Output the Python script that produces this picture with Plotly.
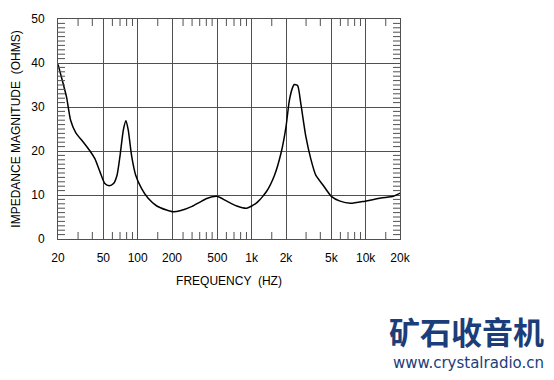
import plotly.graph_objects as go

freq_hz = [20, 22.3, 23.8, 25.8, 28.6, 33.4, 38.2, 42.2, 46.8, 51.5, 56.3, 61.4, 65.9,
           70, 74.9, 78.9, 82.6, 88.5, 96.1, 108, 123, 147, 179, 205, 235, 300, 352,
           404, 495, 605, 740, 904, 1104, 1349, 1586, 1811, 2000, 2137, 2283, 2361,
           2527, 2700, 2985, 3300, 3648, 4186, 4997, 5960, 7362, 9880, 13600, 17500, 20000]
impedance_ohms = [39.7, 35.1, 32.2, 27.0, 24.2, 22.0, 20.0, 18.2, 15.2, 12.6, 12.1, 12.6, 14.5,
                  18.9, 24.8, 26.9, 24.8, 18.9, 14.5, 11.5, 9.3, 7.5, 6.6, 6.2, 6.4, 7.4, 8.4,
                  9.2, 9.7, 8.6, 7.5, 7.0, 8.2, 10.8, 14.5, 19.6, 25.5, 31.4, 34.4, 35.1,
                  34.9, 30.7, 23.3, 18.2, 14.5, 12.4, 9.7, 8.6, 8.1, 8.6, 9.3, 9.7, 10.4]

x_tick_vals = [20, 50, 100, 200, 500, 1000, 2000, 5000, 10000, 20000]
x_tick_text = ["20", "50", "100", "200", "500", "1k", "2k", "5k", "10k", "20k"]
x_minor_vals = [30, 40, 60, 70, 80, 90, 150, 250, 300, 350, 400, 450, 600, 700, 800, 900,
                1500, 3000, 4000, 6000, 7000, 8000, 9000, 15000]
y_tick_vals = [0, 10, 20, 30, 40, 50]
y_minor_vals = [v for v in range(1, 50) if v % 10 != 0]

FONT = "Liberation Sans, Arial, sans-serif"
GRID = "#505050"
X_MIN, X_MAX = 20, 20000
Y_MIN, Y_MAX = 0, 50

fig = go.Figure()
fig.add_trace(go.Scatter(x=freq_hz, y=impedance_ohms, mode="lines",
                         line=dict(color="black", width=1.5, shape="spline", smoothing=0.6),
                         showlegend=False, hoverinfo="skip"))

# inward minor tick marks along the frame (half of each marker is clipped by the axes)
fig.add_trace(go.Scatter(x=x_minor_vals * 2,
                         y=[Y_MIN] * len(x_minor_vals) + [Y_MAX] * len(x_minor_vals),
                         mode="markers", cliponaxis=True,
                         marker=dict(symbol="line-ns-open", size=10, color=GRID,
                                     line=dict(color=GRID, width=1)),
                         showlegend=False, hoverinfo="skip"))
fig.add_trace(go.Scatter(x=[X_MIN] * len(y_minor_vals) + [X_MAX] * len(y_minor_vals),
                         y=y_minor_vals * 2,
                         mode="markers", cliponaxis=True,
                         marker=dict(symbol="line-ew-open", size=10, color=GRID,
                                     line=dict(color=GRID, width=1)),
                         showlegend=False, hoverinfo="skip"))

fig.update_layout(
    xaxis=dict(type="log", range=[1.30103, 4.30103],
               tickmode="array", tickvals=x_tick_vals, ticktext=x_tick_text,
               showgrid=True, gridcolor=GRID, gridwidth=1,
               showline=True, linecolor=GRID, linewidth=1, mirror=True,
               ticks="", tickfont=dict(family=FONT, size=12, color="black"),
               title=dict(text="FREQUENCY  (HZ)", font=dict(family=FONT, size=12, color="black"),
                          standoff=12),
               zeroline=False, ticklabelstandoff=8),
    yaxis=dict(range=[Y_MIN, Y_MAX], tickmode="array", tickvals=y_tick_vals,
               showgrid=True, gridcolor=GRID, gridwidth=1,
               showline=True, linecolor=GRID, linewidth=1, mirror=True,
               ticks="", tickfont=dict(family=FONT, size=12, color="black"),
               title=dict(text="IMPEDANCE MAGNITUDE  (OHMS)",
                          font=dict(family=FONT, size=12, color="black"), standoff=8),
               zeroline=False, ticklabelstandoff=10),
)

fig.add_annotation(xref="paper", yref="paper", x=1.193, y=-0.416, text="<b>矿石收音机</b>",
                   showarrow=False, xanchor="center", yanchor="middle",
                   font=dict(family="Noto Sans CJK SC", size=31, color="#1b3d7a"))
fig.add_annotation(xref="paper", yref="paper", x=1.199, y=-0.562, text="www.crystalradio.cn",
                   showarrow=False, xanchor="center", yanchor="middle",
                   font=dict(family="DejaVu Sans", size=15, color="#1b3d7a"))

fig.update_layout(width=554, height=380, margin=dict(l=58, r=154, t=13, b=141),
                  plot_bgcolor="white", paper_bgcolor="white")
fig.write_html("out.html")
